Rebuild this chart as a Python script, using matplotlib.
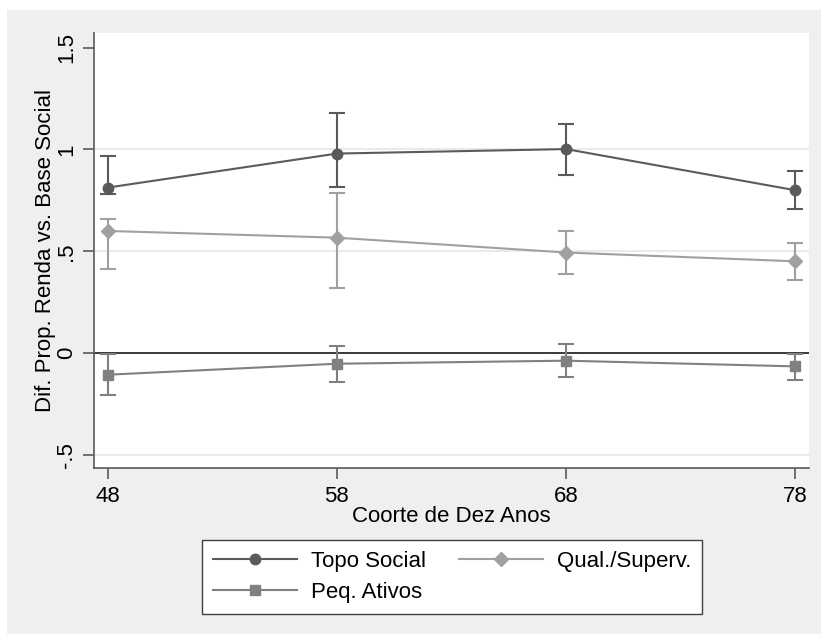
import matplotlib
matplotlib.use("Agg")
import matplotlib.pyplot as plt
from matplotlib.patches import Rectangle

plt.rcParams['font.family'] = ['Liberation Sans', 'DejaVu Sans']

cohorts = [48, 58, 68, 78]
x_ticklabels = ["48", "58", "68", "78"]
y_ticks = [-0.5, 0, 0.5, 1, 1.5]
y_ticklabels = ["-.5", "0", ".5", "1", "1.5"]

topo = [0.813, 0.980, 1.002, 0.800]
topo_lo = [0.779, 0.816, 0.877, 0.708]
topo_hi = [0.969, 1.177, 1.123, 0.893]

qual = [0.600, 0.567, 0.494, 0.451]
qual_lo = [0.415, 0.322, 0.389, 0.359]
qual_hi = [0.661, 0.787, 0.600, 0.539]

peq = [-0.106, -0.052, -0.037, -0.065]
peq_lo = [-0.205, -0.142, -0.119, -0.134]
peq_hi = [-0.003, 0.033, 0.046, -0.003]

labels = ["Topo Social", "Qual./Superv.", "Peq. Ativos"]
c_topo, c_qual, c_peq = "#5a5a5a", "#a0a0a0", "#808080"

W, H = 821, 635
fig = plt.figure(figsize=(W / 100, H / 100), dpi=100)
fig.patch.set_facecolor("white")
fig.patches.append(Rectangle((7 / W, 1 / H), 1 - 7 / W, 1 - 11 / H,
                             transform=fig.transFigure, facecolor="#efefef",
                             edgecolor="none", zorder=-10))

ax = fig.add_axes([94 / W, (H - 468) / H, (809 - 94) / W, (468 - 33) / H])
ax.set_facecolor("white")
ax.set_xlim(47.40, 78.60)
ax.set_ylim(-0.564, 1.572)

for g in [1.0, 0.5, -0.5]:
    ax.axhline(g, color="#e6e6e6", lw=1.2, zorder=0)
ax.axhline(0, color="#2a2a2a", lw=1.3, zorder=1)

fs = 16

def series(y, lo, hi, color, marker, ms, label):
    yerr = [[a - b for a, b in zip(y, lo)], [b - a for a, b in zip(y, hi)]]
    ax.errorbar(cohorts, y, yerr=yerr, fmt="none", ecolor=color, elinewidth=1.5,
                capsize=6, capthick=1.5, zorder=2)
    line, = ax.plot(cohorts, y, color=color, lw=1.5, marker=marker, ms=ms,
                    markerfacecolor=color, markeredgecolor=color, zorder=3,
                    label=label)
    return line

h1 = series(topo, topo_lo, topo_hi, c_topo, "o", 7.5, labels[0])
h2 = series(qual, qual_lo, qual_hi, c_qual, "D", 7, labels[1])
h3 = series(peq, peq_lo, peq_hi, c_peq, "s", 7.5, labels[2])

for s in ["top", "right"]:
    ax.spines[s].set_visible(False)
for s in ["left", "bottom"]:
    ax.spines[s].set_color("#5a5a5a")
    ax.spines[s].set_linewidth(1.2)

ax.set_xticks(cohorts)
ax.set_xticklabels(x_ticklabels, fontsize=fs)
ax.set_yticks(y_ticks)
ax.set_yticklabels(y_ticklabels, fontsize=fs, rotation=90, va="center")
ax.tick_params(axis="both", length=8, width=1.2, color="#5a5a5a", pad=4)
ax.tick_params(axis="x", pad=5)

ax.set_xlabel("Coorte de Dez Anos", fontsize=fs, labelpad=-1)
ax.set_ylabel("Dif. Prop. Renda vs. Base Social", fontsize=fs, labelpad=0)

leg = fig.legend([h1, h3, h2], [labels[0], labels[2], labels[1]], ncol=2,
                 loc="center", bbox_to_anchor=(452 / W, 1 - 577 / H),
                 fontsize=fs, frameon=True, fancybox=False, framealpha=1,
                 edgecolor="#404040", handlelength=3.8, handletextpad=0.6,
                 columnspacing=1.5, labelspacing=0.45, borderpad=0.5,
                 borderaxespad=0)
leg.get_frame().set_linewidth(1.0)

fig.savefig("out.png", dpi=100)
